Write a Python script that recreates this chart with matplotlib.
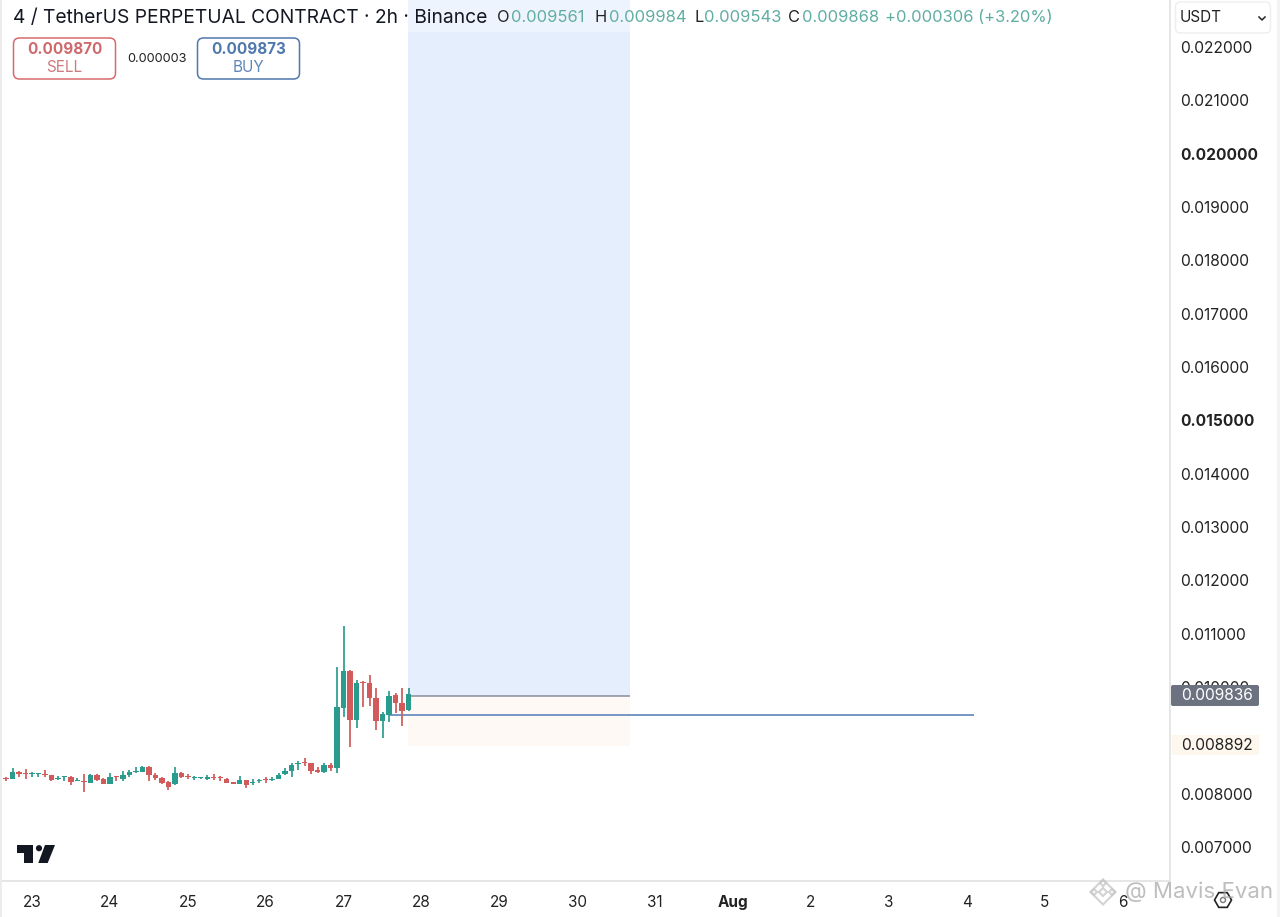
import matplotlib
matplotlib.use("Agg")
import matplotlib.pyplot as plt
import numpy as np
from matplotlib.patches import FancyBboxPatch, Polygon, Circle, Rectangle, RegularPolygon
from matplotlib.transforms import Affine2D

plt.rcParams['font.family'] = ['Inter', 'DejaVu Sans']

# 2h candles; index 0 is the start of day "23"
candle_index = list(range(-5, 59))
opens = [8300,8288,8281,8412,8381,8362,8375,8369,8350,8275,8319,8319,8244,8244,8206,8350,8275,8181,8331,8275,
         8356,8400,8412,8500,8350,8294,8219,8175,8381,8331,8287,8287,8281,8319,8300,8275,8219,8181,8256,8206,
         8244,8269,8256,8281,8362,8431,8556,8581,8569,8444,8406,8537,8490,9612,10306,9381,10088,10069,9788,9363,
         9475,9850,9694,9561]
closes = [8281,8281,8412,8362,8362,8369,8381,8356,8256,8288,8331,8225,8256,8225,8350,8256,8181,8319,8306,8350,
          8400,8412,8500,8350,8288,8206,8131,8381,8319,8306,8300,8300,8306,8300,8287,8206,8181,8256,8162,8225,
          8256,8256,8281,8356,8431,8544,8569,8569,8425,8400,8537,8475,9630,10306,9381,10069,10069,9788,9363,9494,
          9837,9706,9556,9868]
highs = [8319,8319,8475,8425,8456,8412,8394,8444,8350,8331,8331,8331,8300,8362,8362,8362,8300,8381,8331,8431,
         8444,8506,8519,8519,8381,8319,8244,8506,8412,8362,8331,8306,8350,8369,8337,8287,8225,8337,8256,8269,
         8269,8306,8306,8381,8475,8569,8619,8662,8581,8506,8581,8569,10370,11144,10320,10131,10118,10225,9987,9537,
         9925,9882,9976,9984]
lows = [8269,8244,8269,8319,8275,8319,8319,8319,8244,8256,8244,8162,8231,8037,8194,8231,8181,8181,8237,8244,
        8306,8381,8400,8244,8256,8181,8069,8162,8287,8281,8256,8269,8256,8256,8237,8194,8175,8175,8100,8162,
        8194,8206,8231,8269,8350,8306,8444,8519,8362,8381,8394,8431,8390,9443,8869,9226,9630,9649,9194,9050,
        9350,9518,9269,9543]

day_labels = ['23','24','25','26','27','28','29','30','31','Aug','2','3','4','5','6']
price_ticks = [0.007,0.008,0.010,0.011,0.012,0.013,0.014,0.015,0.016,0.017,0.018,0.019,0.020,0.021,0.022]
bold_prices = [0.015, 0.020]

target_top = 0.0229
entry_price = 0.009836
stop_price = 0.008892
line_price = 0.009475

W, H = 1280, 917
GREEN, RED = '#2a9c8e', '#d25a5a'
TEAL = '#5fada3'
GRID = '#e6e6e6'

fig = plt.figure(figsize=(W/100, H/100), dpi=100, facecolor='white')
ax = fig.add_axes([0, 1-881/H, 1170/W, 881/H])
ppd = 77.9            # pixels per day
ppu = 53333.0         # pixels per price unit
ax.set_xlim(-32/ppd, (1170-32)/ppd)
ax.set_ylim(0.007-34/ppu, 0.007+847/ppu)

# position tool
x0, x1 = (408-32)/ppd, (630-32)/ppd
ax.add_patch(Rectangle((x0, entry_price), x1-x0, target_top-entry_price, fc='#e4eefc', ec='none', zorder=1))
ax.add_patch(Rectangle((x0, stop_price), x1-x0, entry_price-stop_price, fc='#fef9f4', ec='none', zorder=1))
ax.plot([x0, x1], [entry_price]*2, color='#8a8c9c', lw=1.1, zorder=2, solid_capstyle='butt')
ax.plot([(390-32)/ppd, (974-32)/ppd], [line_price]*2, color='#6a8fc0', lw=1.3, zorder=2, solid_capstyle='butt')

# candles
xs = np.array(candle_index)/12.0
o, c, hi, lo = [np.array(a)*1e-6 for a in (opens, closes, highs, lows)]
cols = [GREEN if b >= a else RED for a, b in zip(o, c)]
ax.vlines(xs, lo, hi, colors=cols, lw=1.25, zorder=3)
ax.bar(xs, np.maximum(np.abs(c-o), 1.9e-5), bottom=np.minimum(o, c), width=5.4/ppd, color=cols, lw=0, zorder=4)

# axes
for s in ['top', 'left']:
    ax.spines[s].set_visible(False)
for s in ['right', 'bottom']:
    ax.spines[s].set_color(GRID)
    ax.spines[s].set_linewidth(1.4)
ax.yaxis.tick_right()
ax.set_yticks(price_ticks)
ax.set_yticklabels([f'{p:.6f}' for p in price_ticks], fontsize=11.2, color='#222222')
for lab, p in zip(ax.get_yticklabels(), price_ticks):
    if any(abs(p-b) < 1e-9 for b in bold_prices):
        lab.set_fontweight('bold')
ax.set_xticks(np.arange(len(day_labels)))
ax.set_xticklabels(day_labels, fontsize=11, color='#222222')
ax.get_xticklabels()[day_labels.index('Aug')].set_fontweight('bold')
ax.tick_params(axis='y', length=0, pad=7.5)
ax.tick_params(axis='x', length=0, pad=10)

# pixel overlay helpers
px = Affine2D().scale(1, -1).translate(0, H)
def T(x, y, s, **kw):
    kw.setdefault('va', 'center')
    kw.setdefault('zorder', 8)
    fig.add_artist(plt.Text(x, y, s, transform=px, **kw))
def box(x, y, w, h, r=6, **kw):
    kw.setdefault('zorder', 6)
    fig.add_artist(FancyBboxPatch((x, y), w, h, boxstyle=f'round,pad=0,rounding_size={r}', transform=px, **kw))

# window edges
fig.add_artist(Rectangle((0, 0), 1.8, H, transform=px, fc='#ececec', ec='none', zorder=5))
fig.add_artist(Rectangle((1277, 0), 3, H, transform=px, fc='#f3f3f3', ec='none', zorder=5))

# header band
fig.add_artist(Rectangle((2, 0), 1060, 32, transform=px, fc='white', ec='none', alpha=0.4, zorder=5))
T(13, 18, '4 / TetherUS PERPETUAL CONTRACT · 2h · Binance', fontsize=13.85, color='#131722')
for x, s in [(497, 'O'), (595, 'H'), (694, 'L'), (788, 'C')]:
    T(x, 18, s, fontsize=11.8, color='#222222')
for x, s in [(511, '0.009561'), (609, '0.009984'), (704, '0.009543'), (802, '0.009868'),
             (885, '+0.000306 (+3.20%)')]:
    T(x, 18, s, fontsize=11.9, color=TEAL)

# buy / sell
box(13.5, 38, 102, 41, fc='white', ec='#d9696c', lw=1.1)
box(197.5, 38, 102, 41, fc='white', ec='#4f78ad', lw=1.1)
T(64.5, 50, '0.009870', ha='center', fontsize=11, fontweight='bold', color='#cf6a6c')
T(64.5, 68, 'SELL', ha='center', fontsize=11, color='#cf7a7c')
T(248.5, 50, '0.009873', ha='center', fontsize=11, fontweight='bold', color='#4f78ad')
T(248.5, 68, 'BUY', ha='center', fontsize=11, color='#5f86b8')
T(156.5, 59.5, '0.000003', ha='center', fontsize=9.2, color='#222222')

# currency selector
box(1175.5, 2, 95, 31, r=5, fc='white', ec='#eeeeee', lw=1)
T(1180, 17.5, 'USDT', fontsize=11, color='#222222')
fig.add_artist(plt.Line2D([1259, 1262, 1265], [17, 20, 17], transform=px, color='#222222', lw=1.1, zorder=8))

# price tags
box(1171, 685, 88, 21, r=2, fc='#6d7280', ec='none')
T(1216.5, 696, f'{entry_price:.6f}', ha='center', fontsize=11.2, color='white')
fig.add_artist(Rectangle((1172, 735), 87, 20, transform=px, fc='#fdf7ee', ec='none', zorder=6))
T(1216.5, 746, f'{stop_price:.6f}', ha='center', fontsize=11.2, color='#222222')

# TradingView logo
LOGO = '#131722'
fig.add_artist(Polygon([(16.7,845),(32.7,845),(32.7,863),(24.3,863),(24.3,852.7),(16.7,852.7)],
                       closed=True, transform=px, fc=LOGO, ec='none', zorder=8))
fig.add_artist(Circle((39, 848.2), 3.1, transform=px, fc=LOGO, ec='none', zorder=8))
fig.add_artist(Polygon([(45,845),(55,845),(47.7,863),(38.3,863)],
                       closed=True, transform=px, fc=LOGO, ec='none', zorder=8))

# settings icon
fig.add_artist(RegularPolygon((1223, 900), 6, radius=8.5, orientation=np.pi/6, transform=px,
                              fc='none', ec='#222222', lw=1.2, zorder=8))
fig.add_artist(Circle((1223, 900), 2.5, transform=px, fc='none', ec='#777777', lw=1, zorder=8))

# watermark
T(1125, 892, '@ Mavis Evan', fontsize=16, color='#a8a8a8', alpha=0.75, zorder=9)
for (cx, cy, r) in [(1103, 892, 12.5), (1103, 892, 4), (1094, 892, 3), (1112, 892, 3), (1103, 883, 3)]:
    fig.add_artist(RegularPolygon((cx, cy), 4, radius=r, transform=px, fc='none', ec='#c8c8c8', lw=1.5, alpha=0.8, zorder=9))

fig.savefig('out.png', dpi=100, facecolor='white')
